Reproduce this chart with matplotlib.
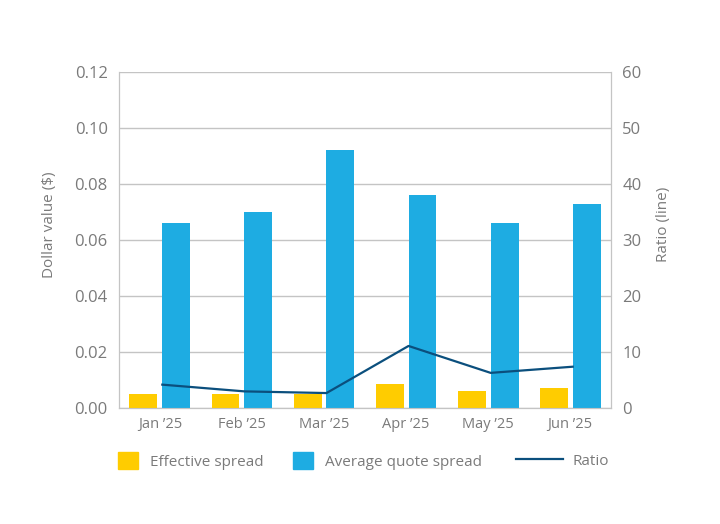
import numpy as np
import matplotlib
matplotlib.use("Agg")
import matplotlib.pyplot as plt
from matplotlib.patches import Patch
from matplotlib.lines import Line2D

months = ["Jan \u201925", "Feb \u201925", "Mar \u201925", "Apr \u201925", "May \u201925", "Jun \u201925"]
effective_spread = [0.005, 0.005, 0.005, 0.0087, 0.0061, 0.0071]
avg_quote_spread = [0.066, 0.070, 0.092, 0.076, 0.066, 0.073]
ratio = [4.2, 3.0, 2.7, 11.1, 6.3, 7.4]

YELLOW = "#FFCC00"
BLUE = "#1EACE2"
NAVY = "#0B4F7D"
GREY_TXT = "#7a7a7a"
GRID = "#c4c4c4"

plt.rcParams["font.family"] = ["Open Sans", "DejaVu Sans"]

fig = plt.figure(figsize=(7.2, 5.24), dpi=100)
ax = fig.add_axes([0.165, 0.221, 0.684, 0.642])
ax2 = ax.twinx()

x = np.arange(len(months))
w = 0.34
ax.bar(x - 0.2, effective_spread, width=w, color=YELLOW, zorder=3)
ax.bar(x + 0.2, avg_quote_spread, width=w, color=BLUE, zorder=3)
ax2.plot(x + 0.03, ratio, color=NAVY, lw=1.6, zorder=4)

ax.set_xlim(-0.5, len(months) - 0.5)
ax.set_ylim(0, 0.12)
ax.set_yticks(np.arange(0, 0.121, 0.02))
ax.set_yticklabels([f"{v:.2f}" for v in np.arange(0, 0.121, 0.02)])
ax2.set_ylim(0, 60)
ax2.set_yticks(range(0, 61, 10))

ax.set_xticks(x)
ax.set_xticklabels(months)
ax.grid(axis="y", color=GRID, lw=1, zorder=0)
ax.set_axisbelow(True)

for a in (ax, ax2):
    a.spines["top"].set_visible(False)
    for s in ("left", "right", "bottom"):
        a.spines[s].set_color(GRID)
    a.tick_params(length=0, colors=GREY_TXT)

ax.tick_params(axis="y", labelsize=12, pad=8)
ax.tick_params(axis="x", labelsize=10.5, pad=6)
ax2.tick_params(axis="y", labelsize=12, pad=8)

ax.set_ylabel("Dollar value ($)", color=GREY_TXT, fontsize=11)
ax.yaxis.set_label_coords(-0.125, 0.545)
ax2.set_ylabel("Ratio (line)", color=GREY_TXT, fontsize=11)
ax2.yaxis.set_label_coords(1.09, 0.545)

# legend split in two so the square swatches and the longer line sample
# can each have their own handle size
bar_handles = [
    Patch(color=YELLOW, label="Effective spread"),
    Patch(color=BLUE, label="Average quote spread"),
]
line_handles = [Line2D([0], [0], color=NAVY, lw=1.6, label="Ratio")]

leg1 = fig.legend(handles=bar_handles, loc="center left", bbox_to_anchor=(118 / 720, 0.12),
                  ncol=2, frameon=False, fontsize=11, borderaxespad=0, borderpad=0,
                  handlelength=1.31, handleheight=1.31, handletextpad=0.78, columnspacing=1.95)
leg2 = fig.legend(handles=line_handles, loc="center left", bbox_to_anchor=(516 / 720, 0.12),
                  frameon=False, fontsize=11, borderaxespad=0, borderpad=0,
                  handlelength=3.07, handletextpad=0.6)
for lg in (leg1, leg2):
    for t in lg.get_texts():
        t.set_color(GREY_TXT)

fig.savefig("out.png", dpi=100)
